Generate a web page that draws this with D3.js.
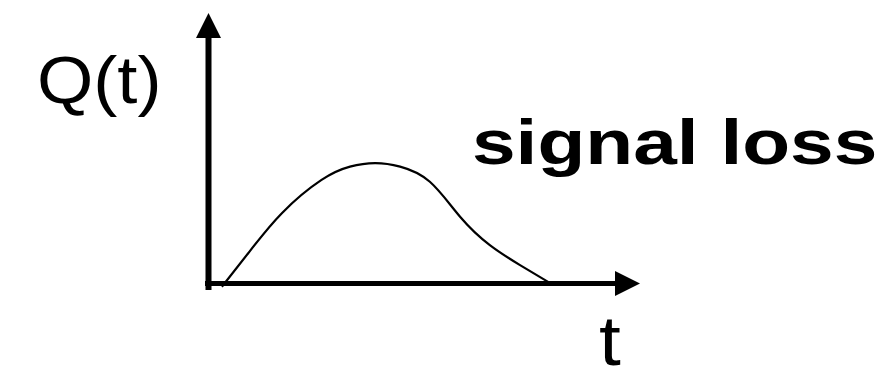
<!DOCTYPE html>
<html>
<head>
<meta charset="utf-8">
<script src="https://cdn.jsdelivr.net/npm/d3@7"></script>
<style>
  body { margin: 0; background: #fff; }
  text { font-family: "Liberation Sans", Arial, Helvetica, sans-serif; fill: #000; }
</style>
</head>
<body>
<div id="mainbox"></div>
<script>
// curve (t and Q in arbitrary units, 0..100)
const tVals = [3.1, 9.2, 17.0, 26.2, 32.8, 38.6, 44.4, 51.3, 58.3, 65.2, 72.2, 78.7];
const qVals = [-1.2, 11.2, 26.0, 38.3, 43.2, 44.5, 43.2, 37.6, 24.7, 14.2, 6.8, 0.6];
const yLabel = 'Q(t)';
const xLabel = 't';
const note = 'signal loss';

const w_svg = 893, h_svg = 372;

const svgMain = d3.select('#mainbox')
  .append('svg')
  .attr('width', w_svg)
  .attr('height', h_svg);

const scaleX = d3.scaleLinear().domain([0, 100]).range([208.5, 640]);
const scaleY = d3.scaleLinear().domain([0, 100]).range([283.5, 13]);

const data = tVals.map((t, i) => ({t: t, q: qVals[i]}));

// axes (no ticks, just arrows)
const head = 25;
svgMain.append('line')
  .attr('x1', scaleX(0)).attr('x2', scaleX(0))
  .attr('y1', scaleY(-2.4)).attr('y2', scaleY(100) + head - 1)
  .attr('stroke', '#000').attr('stroke-width', 6);

svgMain.append('line')
  .attr('x1', scaleX(0) - 3.5).attr('x2', scaleX(100) - head + 1)
  .attr('y1', scaleY(0)).attr('y2', scaleY(0))
  .attr('stroke', '#000').attr('stroke-width', 5);

// arrow heads
svgMain.append('path')
  .attr('d', `M${scaleX(0)},${scaleY(100)} L${scaleX(0) - 12.5},${scaleY(100) + head} L${scaleX(0) + 12.5},${scaleY(100) + head}Z`)
  .attr('fill', '#000');
svgMain.append('path')
  .attr('d', `M${scaleX(100)},${scaleY(0)} L${scaleX(100) - head},${scaleY(0) - 12.5} L${scaleX(100) - head},${scaleY(0) + 12.5}Z`)
  .attr('fill', '#000');

// the curve
const line = d3.line()
  .x(d => scaleX(d.t))
  .y(d => scaleY(d.q))
  .curve(d3.curveNatural);

svgMain.append('path')
  .datum(data)
  .attr('d', line)
  .attr('fill', 'none')
  .attr('stroke', '#000')
  .attr('stroke-width', 2.2);

// labels (picture is stretched sideways a bit)
svgMain.append('text')
  .attr('transform', 'translate(37,103) scale(1.08,1)')
  .attr('font-size', 67)
  .text(yLabel);

svgMain.append('text')
  .attr('transform', 'translate(599,365) scale(1.12,1)')
  .attr('font-size', 70)
  .text(xLabel);

svgMain.append('text')
  .attr('transform', 'translate(472,164) scale(1.245,1)')
  .attr('font-size', 63)
  .attr('font-weight', 'bold')
  .text(note);
</script>
</body>
</html>
